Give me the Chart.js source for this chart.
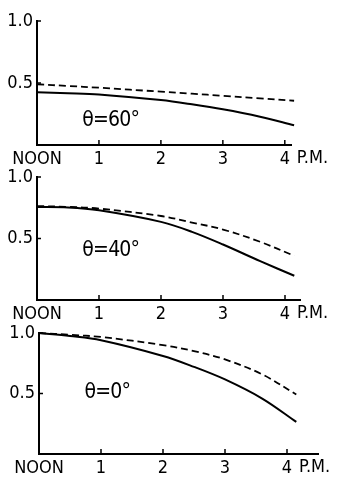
<!DOCTYPE html>
<html>
<head>
<meta charset="utf-8">
<script src="https://cdn.jsdelivr.net/npm/chart.js@4"></script>
<style>
body { margin: 0; background: #fff; }
.panel { position: absolute; left: 0; width: 337px; }
</style>
</head>
<body>
<div class="panel" style="top:0px;height:165px"><canvas id="chart60"></canvas></div>
<div class="panel" style="top:156px;height:164px"><canvas id="chart40"></canvas></div>
<div class="panel" style="top:312px;height:162px"><canvas id="chart0"></canvas></div>
<script>
// hours after noon
const hours = [0, 0.5, 1, 2, 2.5, 3, 3.6, 4.15];
const xTicks = [0, 1, 2, 3, 4];
const xLabels = ["NOON", "1", "2", "3", "4"];
const yTicks = [0.5, 1.0];

// theta = 60
const solid60 = [0.425, 0.418, 0.408, 0.362, 0.328, 0.288, 0.228, 0.16];
const dashed60 = [0.49, 0.476, 0.462, 0.43, 0.414, 0.397, 0.376, 0.357];
// theta = 40
const solid40 = [0.756, 0.752, 0.729, 0.635, 0.554, 0.451, 0.316, 0.197];
const dashed40 = [0.764, 0.757, 0.743, 0.683, 0.63, 0.573, 0.473, 0.359];
// theta = 0
const solid0 = [1.0, 0.975, 0.94, 0.81, 0.72, 0.616, 0.458, 0.265];
const dashed0 = [1.0, 0.985, 0.967, 0.9, 0.85, 0.782, 0.658, 0.492];

const FONT = "'Liberation Sans Narrow', 'DejaVu Sans Condensed', sans-serif";
const LABEL_PAD = 4;

// small inward ticks, the P.M. text and the panel label
const axisMarks = {
    id: "axisMarks",
    afterDraw: (chart, args, opts) => {
        const ctx = chart.ctx;
        const x = chart.scales.x;
        const y = chart.scales.y;
        ctx.save();
        ctx.strokeStyle = "#000";
        ctx.lineWidth = 1.5;
        ctx.beginPath();
        xTicks.forEach(v => {
            const px = x.getPixelForValue(v);
            ctx.moveTo(px, y.bottom);
            ctx.lineTo(px, y.bottom - 5);
        });
        yTicks.forEach(v => {
            const py = y.getPixelForValue(v);
            ctx.moveTo(x.left, py);
            ctx.lineTo(x.left + 4, py);
        });
        ctx.stroke();

        ctx.fillStyle = "#000";
        ctx.font = "18px " + FONT;
        ctx.textAlign = "left";
        ctx.textBaseline = "top";
        ctx.fillText("P.M.", x.getPixelForValue(4) + 12, x.top + LABEL_PAD);

        ctx.font = "condensed 21px 'DejaVu Sans', sans-serif";
        ctx.letterSpacing = "-0.8px";
        ctx.textAlign = "center";
        ctx.textBaseline = "middle";
        ctx.fillText(opts.label, x.getPixelForValue(opts.at[0]), y.getPixelForValue(opts.at[1]));
        ctx.restore();
    }
};

const toPoints = (values) => values.map((v, i) => ({ x: hours[i], y: v }));

const makeChart = (id, solid, dashed, left, xMax, rightPad, label, labelAt) => {
    new Chart(id, {
        type: "line",
        data: {
            datasets: [
                { data: toPoints(solid), borderColor: "#000", borderWidth: 2, pointRadius: 0, tension: 0.35, clip: 4 },
                { data: toPoints(dashed), borderColor: "#000", borderWidth: 1.8, borderDash: [7, 4], pointRadius: 0, tension: 0.35, clip: 4 }
            ]
        },
        options: {
            responsive: true,
            maintainAspectRatio: false,
            animation: false,
            layout: { padding: { top: 21, right: rightPad, left: 0, bottom: 0 } },
            plugins: {
                legend: { display: false },
                tooltip: { enabled: false },
                axisMarks: { label: label, at: labelAt }
            },
            scales: {
                x: {
                    type: "linear",
                    min: 0,
                    max: xMax,
                    afterBuildTicks: (scale) => { scale.ticks = xTicks.map(v => ({ value: v })); },
                    afterFit: (scale) => { scale.height = 20; },
                    grid: { display: false, drawTicks: false },
                    border: { display: true, color: "#000", width: 2 },
                    ticks: {
                        color: "#000",
                        padding: LABEL_PAD,
                        maxRotation: 0,
                        font: { family: FONT, size: 18 },
                        callback: (v) => xLabels[xTicks.indexOf(v)]
                    }
                },
                y: {
                    min: 0,
                    max: 1,
                    afterBuildTicks: (scale) => { scale.ticks = yTicks.map(v => ({ value: v })); },
                    afterFit: (scale) => { scale.width = left; },
                    grid: { display: false, drawTicks: false },
                    border: { display: true, color: "#000", width: 2 },
                    ticks: {
                        color: "#000",
                        padding: 4,
                        font: { family: FONT, size: 18 },
                        callback: (v) => v.toFixed(1)
                    }
                }
            }
        },
        plugins: [axisMarks]
    });
}

makeChart("chart60", solid60, dashed60, 37, 4.1, 46, "θ=60°", [1.19, 0.2]);
makeChart("chart40", solid40, dashed40, 37, 4.25, 36.5, "θ=40°", [1.19, 0.405]);
makeChart("chart0", solid0, dashed0, 39, 4.5, 19, "θ=0°", [1.1, 0.506]);
</script>
</body>
</html>
